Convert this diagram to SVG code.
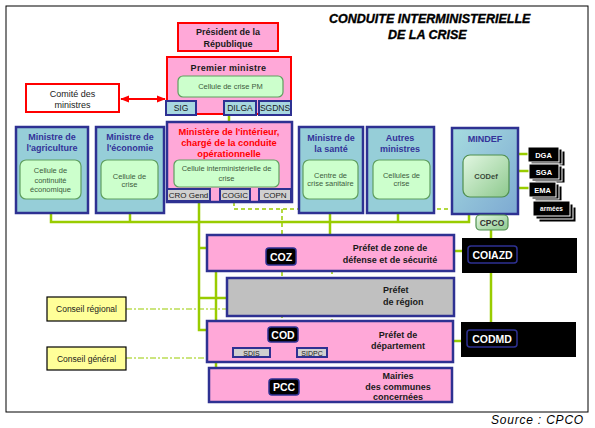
<svg xmlns="http://www.w3.org/2000/svg" width="595" height="428" viewBox="0 0 595 428">
<defs>
<style>
text{font-family:"Liberation Sans",Arial,sans-serif}
.b{font-weight:bold}
.m{text-anchor:middle}
.red{fill:#FFA8D8;stroke:#FF0000;stroke-width:2}
.min{fill:#96CED8;stroke:#2E3192;stroke-width:2.5}
.pink{fill:#FFA8D8;stroke:#2E3192;stroke-width:2.5}
.gray{fill:#C0C0C0;stroke:#2E3192;stroke-width:2.5}
.cell{fill:#CCFFCC;stroke:#5F9F5F;stroke-width:1.2}
.sub{fill:#A8D8E0;stroke:#2E3192;stroke-width:2}
.sg{fill:#D0D0D0;stroke:#2E3192;stroke-width:2}
.badge{fill:#000;stroke:#2E3192;stroke-width:1.5}
.blk{fill:#000;stroke:#fff;stroke-width:1}
.yel{fill:#FFFF99;stroke:#000;stroke-width:1.2}
.g{stroke:#99CC00;stroke-width:2.5;fill:none}
.gd{stroke:#99CC00;stroke-width:1.5;fill:none;stroke-dasharray:4 3}
.gdd{stroke:#99CC00;stroke-width:1.2;fill:none;stroke-dasharray:6 2 2 2}
.nt{font-size:9px;font-weight:bold;fill:#333399}
.dt{font-size:9px;font-weight:bold;fill:#1a1a1a}
.ct{font-size:7.5px;fill:#3D5C3D}
.st{font-size:8.5px;fill:#1a1a1a}
.wt{font-size:10.5px;font-weight:bold;fill:#fff}
.kt{font-size:7.5px;font-weight:bold;fill:#fff}
.ti{font-weight:bold;font-style:italic;font-size:12.5px;stroke:#000;stroke-width:0.35}
</style>
<linearGradient id="mdg" x1="0" y1="0" x2="1" y2="1">
<stop offset="0" stop-color="#A6DCDF"/><stop offset="1" stop-color="#7DA9D2"/>
</linearGradient>
<linearGradient id="cg" x1="0" y1="0" x2="1" y2="1">
<stop offset="0" stop-color="#E2F7E2"/><stop offset="1" stop-color="#8EC98E"/>
</linearGradient>
<marker id="ar" viewBox="0 0 10 10" refX="9" refY="5" markerWidth="5" markerHeight="5" orient="auto-start-reverse">
<path d="M0,1 L10,5 L0,9 z" fill="#FF0000"/>
</marker>
</defs>
<rect x="0" y="0" width="595" height="428" fill="#fff"/>
<rect x="6" y="6" width="582" height="406" fill="none" stroke="#000" stroke-width="1"/>

<g id="title">
<text x="329" y="23" class="ti">CONDUITE INTERMINISTERIELLE</text>
<text x="388" y="39" class="ti">DE LA CRISE</text>
</g>

<g id="connectors">
<line x1="121" y1="99" x2="165" y2="99" stroke="#FF0000" stroke-width="1.8" marker-start="url(#ar)" marker-end="url(#ar)"/>
<line class="g" x1="229" y1="115" x2="229" y2="123"/>
<line class="gd" x1="51" y1="199" x2="51" y2="213"/>
<line class="gd" x1="130" y1="199" x2="130" y2="213"/>
<line class="gd" x1="330" y1="199" x2="330" y2="213"/>
<line class="gd" x1="398" y1="199" x2="398" y2="213"/>
<path class="g" d="M51,213 V222 H469 V214"/>
<line class="g" x1="130" y1="213" x2="130" y2="222"/>
<line class="g" x1="398" y1="213" x2="398" y2="222"/>
<line class="g" x1="330" y1="213" x2="330" y2="235"/>
<path class="g" d="M199,202 V330 H207"/>
<path class="g" d="M199,248 H207"/>
<path class="g" d="M199,298 H228"/>
<line class="g" x1="216" y1="271" x2="216" y2="368"/>
<path class="gd" d="M234,202 V209 H483 V197"/>
<line class="gd" x1="282" y1="209" x2="282" y2="321"/>
<line class="gd" x1="332" y1="263" x2="332" y2="321"/>
<line class="g" x1="491" y1="197" x2="491" y2="215"/>
<line class="g" x1="491" y1="230" x2="491" y2="238"/>
<line class="g" x1="491" y1="273" x2="491" y2="322"/>
<line class="g" x1="509" y1="154" x2="529" y2="154"/>
<line class="g" x1="509" y1="171" x2="529" y2="171"/>
<line class="g" x1="509" y1="188" x2="529" y2="188"/>
<line class="g" x1="454" y1="251" x2="462" y2="251"/>
<line class="g" x1="453" y1="341" x2="461" y2="341"/>
<line class="gdd" x1="126" y1="309" x2="227" y2="309"/>
<line class="gdd" x1="126" y1="358" x2="207" y2="358"/>
</g>

<g id="president">
<rect class="red" x="178" y="23" width="100" height="28"/>
<text class="dt m" x="228" y="35">Président de la</text>
<text class="dt m" x="228" y="46.5">République</text>
</g>

<g id="premier-ministre">
<rect class="red" x="167" y="57" width="124" height="57"/>
<text class="dt m" x="228.5" y="71" letter-spacing="0.3">Premier ministre</text>
<rect class="cell" x="178" y="76" width="105" height="21" rx="5"/>
<text class="ct m" x="230.5" y="89.3">Cellule de crise PM</text>
<rect class="sub" x="166" y="101" width="30" height="14"/>
<text class="st m" x="181" y="111.3">SIG</text>
<rect class="sub" x="224" y="101" width="32" height="14"/>
<text class="st m" x="240" y="111.3">DILGA</text>
<rect class="sub" x="259" y="101" width="32" height="14"/>
<text class="st m" x="275" y="111.3">SGDNS</text>
</g>

<g id="comite">
<rect x="26" y="84" width="93" height="28" fill="#fff" stroke="#FF0000" stroke-width="2"/>
<text class="m" x="72.5" y="96.5" font-size="9" fill="#1a1a1a">Comité des</text>
<text class="m" x="72.5" y="107.5" font-size="9" fill="#1a1a1a">ministres</text>
</g>

<g id="agriculture">
<rect class="min" x="16" y="127" width="72" height="86"/>
<text class="nt m" x="52" y="140.3">Ministre de</text>
<text class="nt m" x="52" y="151.3">l'agriculture</text>
<rect class="cell" x="20" y="160" width="61" height="39" rx="6"/>
<text class="ct m" x="50.5" y="173.4">Cellule de</text>
<text class="ct m" x="50.5" y="182.7">continuité</text>
<text class="ct m" x="50.5" y="192">économique</text>
</g>

<g id="economie">
<rect class="min" x="96" y="127" width="68" height="86"/>
<text class="nt m" x="130" y="140.3">Ministre de</text>
<text class="nt m" x="130" y="151.3">l'économie</text>
<rect class="cell" x="101" y="160" width="57" height="39" rx="6"/>
<text class="ct m" x="129.5" y="178.7">Cellule de</text>
<text class="ct m" x="129.5" y="186.7">crise</text>
</g>

<g id="interieur">
<rect class="pink" x="167" y="122" width="125" height="80"/>
<text class="m" x="229" y="135" font-size="9.3" font-weight="bold" fill="#FF0000">Ministère de l'intérieur,</text>
<text class="m" x="229" y="146.3" font-size="9.3" font-weight="bold" fill="#FF0000">chargé de la conduite</text>
<text class="m" x="229" y="157.3" font-size="9.3" font-weight="bold" fill="#FF0000">opérationnelle</text>
<rect class="cell" x="174" y="160" width="105" height="27" rx="5"/>
<text class="ct m" x="226.5" y="170.7">Cellule interministérielle de</text>
<text class="ct m" x="226.5" y="180.7">crise</text>
<rect class="sg" x="167" y="189" width="43" height="12"/>
<text class="m" x="188.5" y="198" font-size="8" fill="#1a1a1a">CRO Gend</text>
<rect class="sg" x="220" y="189" width="30" height="12"/>
<text class="m" x="235" y="198" font-size="8" fill="#1a1a1a">COGIC</text>
<rect class="sg" x="259" y="189" width="32" height="12"/>
<text class="m" x="275" y="198" font-size="8" fill="#1a1a1a">COPN</text>
</g>

<g id="sante">
<rect class="min" x="299" y="127" width="64" height="86"/>
<text class="nt m" x="331" y="140.5">Ministre de</text>
<text class="nt m" x="331" y="152">la santé</text>
<rect class="cell" x="303" y="160" width="55" height="39" rx="6"/>
<text class="ct m" x="330.5" y="177.7">Centre de</text>
<text class="ct m" x="330.5" y="186">crise sanitaire</text>
</g>

<g id="autres">
<rect class="min" x="367" y="127" width="67" height="86"/>
<text class="nt m" x="400" y="140.5">Autres</text>
<text class="nt m" x="400" y="152">ministres</text>
<rect class="cell" x="373" y="160" width="57" height="39" rx="6"/>
<text class="ct m" x="401.5" y="177.7">Cellules de</text>
<text class="ct m" x="401.5" y="186">crise</text>
</g>

<g id="mindef">
<rect x="452" y="128" width="66" height="86" fill="url(#mdg)" stroke="#2E3192" stroke-width="2.5"/>
<text class="nt m" x="485" y="141.5">MINDEF</text>
<rect x="463" y="155" width="46" height="42" rx="7" fill="url(#cg)" stroke="#4F8F4F" stroke-width="1.2"/>
<text class="m" x="486" y="178.5" font-size="7.5" font-weight="bold" fill="#3a4a3a">CODef</text>
</g>

<g id="dga">
<rect class="blk" x="534" y="151" width="31" height="15"/>
<rect class="blk" x="531" y="149" width="31" height="15"/>
<rect class="blk" x="528" y="147" width="31" height="15"/>
<text class="kt m" x="543.5" y="157.5">DGA</text>
</g>
<g id="sga">
<rect class="blk" x="535" y="168" width="30" height="15"/>
<rect class="blk" x="532" y="166" width="30" height="15"/>
<rect class="blk" x="529" y="164" width="30" height="15"/>
<text class="kt m" x="544" y="174.5">SGA</text>
</g>
<g id="ema">
<rect class="blk" x="535" y="186" width="27" height="15"/>
<rect class="blk" x="532" y="184" width="27" height="15"/>
<rect class="blk" x="529" y="182" width="27" height="15"/>
<text class="kt m" x="542.5" y="192.5">EMA</text>
</g>
<g id="armees">
<rect class="blk" x="539" y="207" width="37" height="15"/>
<rect class="blk" x="536" y="204" width="37" height="15"/>
<rect class="blk" x="533" y="201" width="37" height="15"/>
<text class="m" x="551.5" y="211" font-size="6.5" font-weight="bold" fill="#fff">armées</text>
</g>

<g id="cpco">
<rect x="476" y="215" width="32" height="15" rx="4" fill="url(#cg)" stroke="#4F8F4F" stroke-width="1.2"/>
<text class="m" x="492" y="225.5" font-size="8.5" font-weight="bold" fill="#333">CPCO</text>
</g>

<g id="coz">
<rect class="pink" x="207" y="235" width="247" height="36"/>
<rect class="badge" x="266" y="248" width="30" height="17" rx="3"/>
<text class="wt m" x="281" y="260.5">COZ</text>
<text class="dt m" x="390" y="251">Préfet de zone de</text>
<text class="dt m" x="390" y="263">défense et de sécurité</text>
</g>

<g id="coiazd">
<rect x="462" y="238" width="115" height="35" fill="#000"/>
<rect class="badge" x="468" y="246" width="49" height="17" rx="3"/>
<text class="wt m" x="492.5" y="258.5">COIAZD</text>
</g>

<g id="region">
<rect class="gray" x="227" y="278" width="227" height="38"/>
<text class="dt" x="383" y="293">Préfet</text>
<text class="dt" x="383" y="304.5">de région</text>
</g>

<g id="cod">
<rect class="pink" x="207" y="321" width="246" height="41"/>
<rect class="badge" x="268" y="327" width="30" height="15" rx="3"/>
<text class="wt m" x="283" y="338.5">COD</text>
<rect class="sg" x="233" y="348" width="37" height="9" stroke-width="1.5"/>
<text class="m" x="251.5" y="355.5" font-size="7" fill="#1a1a1a">SDIS</text>
<rect class="sg" x="297" y="348" width="30" height="9" stroke-width="1.5"/>
<text class="m" x="312" y="355.5" font-size="7" fill="#1a1a1a">SIDPC</text>
<text class="dt m" x="398" y="338">Préfet de</text>
<text class="dt m" x="398" y="349">département</text>
</g>

<g id="codmd">
<rect x="461" y="322" width="115" height="35" fill="#000"/>
<rect class="badge" x="467" y="330" width="50" height="17" rx="3"/>
<text class="wt m" x="492" y="342.5">CODMD</text>
</g>

<g id="pcc">
<rect class="pink" x="209" y="368" width="243" height="34"/>
<rect class="badge" x="269" y="379" width="30" height="16" rx="3"/>
<text class="wt m" x="284" y="391">PCC</text>
<text class="dt m" x="398" y="379">Mairies</text>
<text class="dt m" x="398" y="389.5">des communes</text>
<text class="dt m" x="398" y="400">concernées</text>
</g>

<g id="conseil-regional">
<rect class="yel" x="47" y="297" width="79" height="24"/>
<text class="m" x="86.5" y="312" font-size="8.5" fill="#1a1a1a">Conseil régional</text>
</g>
<g id="conseil-general">
<rect class="yel" x="47" y="347" width="79" height="23"/>
<text class="m" x="86.5" y="361.5" font-size="8.5" fill="#1a1a1a">Conseil général</text>
</g>

<text x="584" y="424" text-anchor="end" font-family="Liberation Serif,serif" font-style="italic" font-size="12" letter-spacing="0.8">Source : CPCO</text>
</svg>
